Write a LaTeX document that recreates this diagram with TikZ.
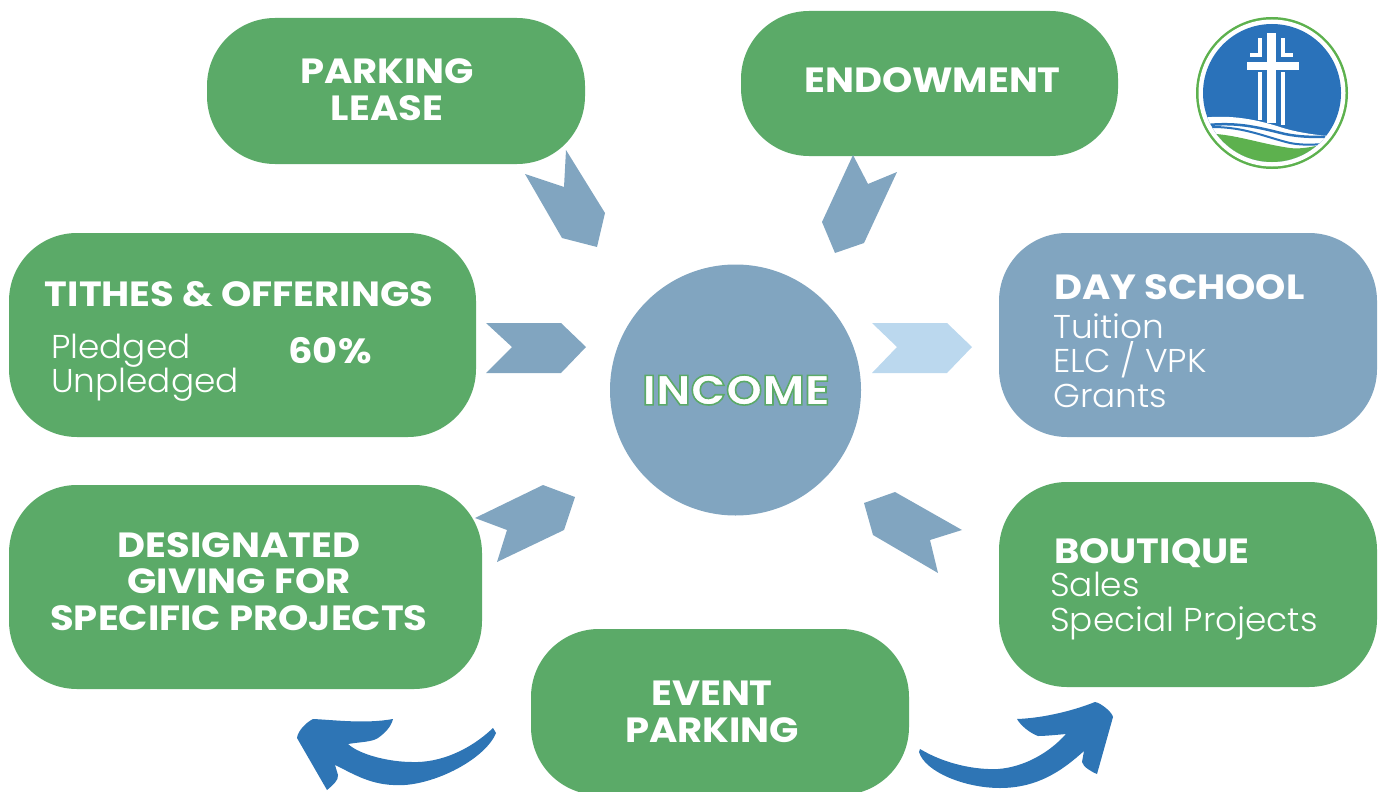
\documentclass[tikz,border=0pt]{standalone}
\usepackage{fontspec}
\setmainfont{Poppins}[BoldFeatures={FakeStretch=1.1}]
\newfontfamily\itemfont{Poppins Light}[FakeStretch=1.04]
\usepackage{tikz}

\definecolor{boxgreen}{HTML}{5BAA68}
\definecolor{boxblue}{HTML}{81A5C0}
\definecolor{paleblue}{HTML}{BBD8EE}
\definecolor{swooshblue}{HTML}{2E75B5}
\definecolor{logoblue}{HTML}{2A72BA}
\definecolor{logogreen}{HTML}{5DB14E}

\newcommand{\outlined}[1]{\special{pdf:code q 0.357 0.667 0.408 RG 2 Tr 1.6 w}#1\special{pdf:code 0 Tr Q}}

\tikzset{
	panel/.style={rounded corners=68pt, inner sep=0pt, minimum height=#1},
	greenpanel/.style={panel=204pt, fill=boxgreen},
	bluepanel/.style={panel=204pt, fill=boxblue},
	headtext/.style={text=white, font=\fontsize{35}{36.6}\selectfont\bfseries, align=center, inner sep=0pt},
	headleft/.style={headtext, align=left, anchor=west},
	subtext/.style={text=white, font=\itemfont\fontsize{33}{34.4}\selectfont, align=left, anchor=west, inner sep=0pt},
	chevron/.style={fill=boxblue}
}

\begin{document}
\begin{tikzpicture}[x=1pt, y=-1pt]
	\useasboundingbox (0,0) rectangle (1384,792);
	\clip (0,0) rectangle (1384,792);

	\node[greenpanel, minimum width=378pt, minimum height=146pt] (parking) at (396,91) {};
	\node[greenpanel, minimum width=377pt, minimum height=145pt] (endowment) at (929.5,83.5) {};
	\node[greenpanel, minimum width=467pt] (tithes) at (242.5,335) {};
	\node[greenpanel, minimum width=473pt] (designated) at (245.5,587) {};
	\node[bluepanel, minimum width=378pt] (dayschool) at (1188,335) {};
	\node[greenpanel, minimum width=378pt, minimum height=205pt] (boutique) at (1188,584.5) {};
	\node[greenpanel, minimum width=378pt, minimum height=166pt] (event) at (720,712) {};
	\node[circle, fill=boxblue, minimum size=251pt, inner sep=0pt] (income) at (735.5,390) {};

	\node[headtext] (parkinglabel) at (387,89.5) {PARKING\\LEASE};
	\node[headtext] (endowmentlabel) at (932.5,80) {ENDOWMENT};
	\node[headtext] (tithestitle) at (239,294) {TITHES \& OFFERINGS};
	\node[subtext] (tithesitems) at (51,367.5) {Pledged\\Unpledged};
	\node[headtext] (percent) at (330,351) {60\%};
	\node[headtext] (designatedlabel) at (239,581.5) {DESIGNATED\\GIVING FOR\\SPECIFIC PROJECTS};
	\node[headleft] (dayschooltitle) at (1054,287) {DAY SCHOOL};
	\node[subtext] (dayschoolitems) at (1053,360.5) {Tuition\\ELC / VPK\\Grants};
	\node[headleft] (boutiquetitle) at (1054,553) {BOUTIQUE};
	\node[subtext] (boutiqueitems) at (1050,606) {Sales\\Special Projects};
	\node[headtext] (eventlabel) at (712,712) {EVENT\\PARKING};
	\node[text=white, font=\fontsize{42}{44}\selectfont\bfseries, inner sep=0pt] (incomelabel) at (736,390) {\outlined{INCOME}};

	\fill[chevron] (566,150)--(605,213)--(597,247)--(562,238)--(525,174)--(564,187)--cycle;
	\fill[chevron] (853,155)--(868,184)--(897,172)--(864,243)--(835,253)--(822,222)--cycle;
	\fill[chevron] (486,323)--(561,323)--(586,347)--(561,373)--(486,373)--(512,347)--cycle;
	\fill[paleblue] (872,323)--(947,323)--(972,347)--(947,373)--(872,373)--(897,347)--cycle;
	\fill[chevron] (962,530)--(930,540)--(938,573)--(873,535)--(864,503)--(895,492)--cycle;
	\fill[chevron] (475,518)--(543,485)--(575,497)--(564,530)--(497,562)--(507,530)--cycle;

	\fill[swooshblue] (493,728) .. controls (470,750) and (440,763) .. (412,762)
		.. controls (390,762) and (360,755) .. (348,744)
		.. controls (360,742) and (372,742) .. (378,738)
		.. controls (385,733) and (391,727) .. (393,719)
		.. controls (365,724) and (335,720) .. (313,719)
		.. controls (307,722) and (298,730) .. (297,738)
		-- (327,790) .. controls (332,786) and (339,780) .. (338,775)
		-- (335,765) .. controls (350,772) and (368,784) .. (393,785)
		.. controls (430,788) and (485,760) .. (496,733)
		-- cycle;
	\fill[swooshblue] (920,749) .. controls (945,764) and (975,770) .. (998,769)
		.. controls (1025,767) and (1050,752) .. (1066,734)
		.. controls (1055,735) and (1045,736) .. (1038,736)
		.. controls (1030,733) and (1021,726) .. (1017,719)
		.. controls (1045,718) and (1075,710) .. (1095,702)
		.. controls (1101,703) and (1112,712) .. (1113,717)
		-- (1097,774) .. controls (1092,772) and (1083,767) .. (1082,762)
		-- (1084,751) .. controls (1065,768) and (1040,788) .. (1000,788)
		.. controls (965,788) and (925,772) .. (919,752)
		-- cycle;

	\fill[logogreen] (1272,93) circle (76);
	\fill[white] (1272,93) circle (73.5);
	\begin{scope}
		\clip (1272,93) circle (69);
		\fill[logoblue] (1200,20) rectangle (1345,165);
		\fill[white] (1200,118) .. controls (1225,115) and (1250,117) .. (1283,128) .. controls (1300,133) and (1320,136) .. (1345,137) -- (1345,165) -- (1200,165) -- cycle;
		\draw[logoblue, line width=2.5pt] (1208,125) .. controls (1240,122) and (1260,128) .. (1285,134) .. controls (1300,137) and (1312,137) .. (1325,137);
		\draw[logoblue, line width=2pt] (1212,127) .. controls (1245,127) and (1265,137) .. (1290,143) .. controls (1300,145) and (1312,145) .. (1322,144);
		\fill[logogreen] (1216,134) .. controls (1240,136) and (1262,144) .. (1290,148) .. controls (1298,149) and (1306,148) .. (1316,146) -- (1320,170) -- (1216,170) -- cycle;
	\end{scope}
	\fill[white] (1267,33) rectangle (1276,123);
	\fill[white] (1247,62) rectangle (1299,70);
	\fill[white] (1258,38) rectangle (1262,56);
	\fill[white] (1250,53) rectangle (1262,57);
	\fill[white] (1281,38) rectangle (1285,56);
	\fill[white] (1281,53) rectangle (1293,57);
	\fill[white] (1258,72) rectangle (1262,120);
	\fill[white] (1281,72) rectangle (1285,125);
\end{tikzpicture}
\end{document}
